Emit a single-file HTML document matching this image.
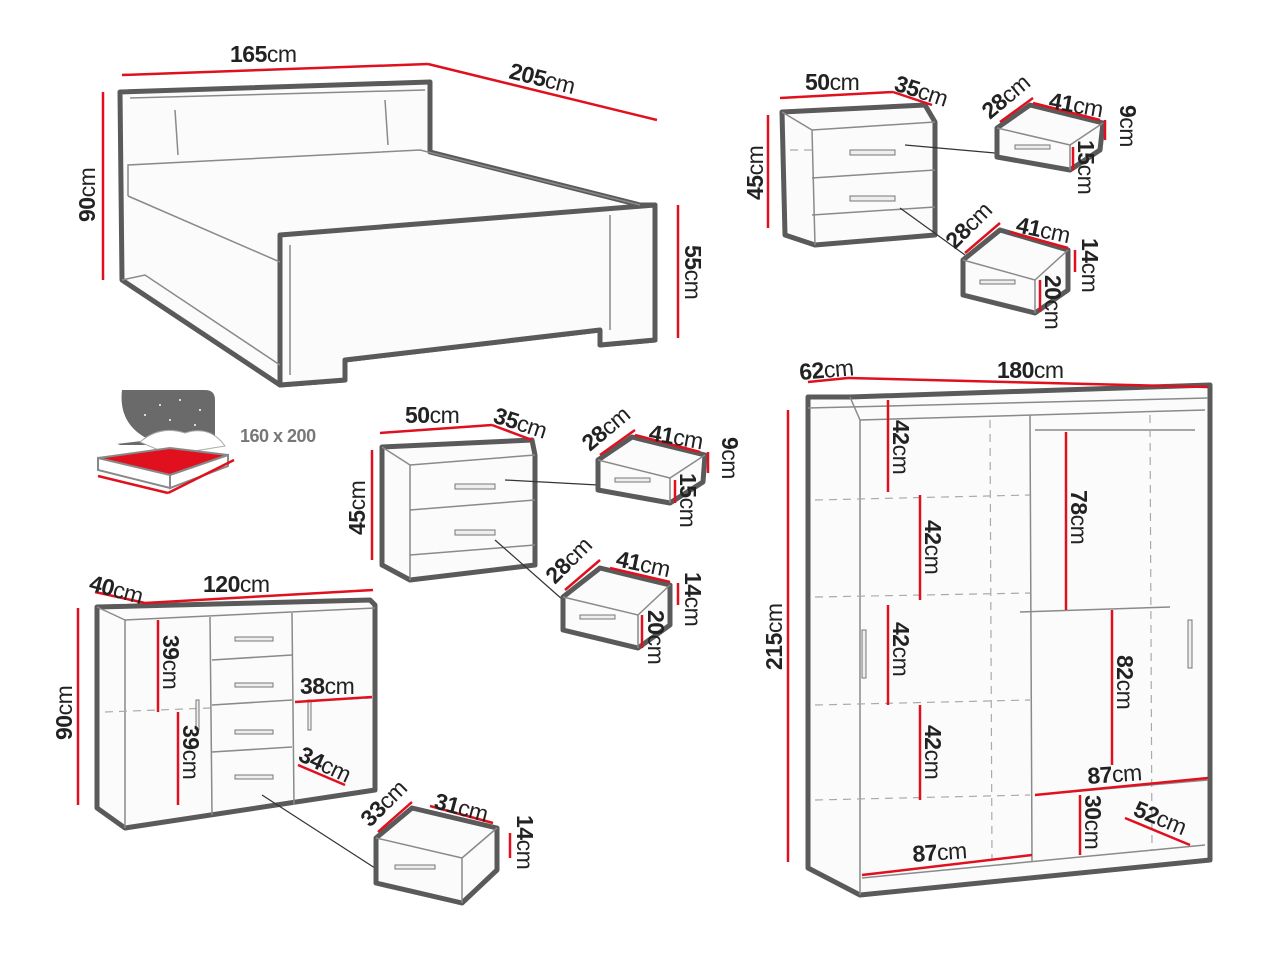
<!DOCTYPE html>
<html><head><meta charset="utf-8"><style>
html,body{margin:0;padding:0;background:#fff;}
svg{display:block;font-family:"Liberation Sans",sans-serif;}
.o{fill:#fbfbfb;stroke:#5a5a5a;stroke-width:5;stroke-linejoin:round}
.t{fill:none;stroke:#8a8a8a;stroke-width:1.5}
.d{fill:none;stroke:#aaa;stroke-width:1.2;stroke-dasharray:8 6}
.r{fill:none;stroke:#e0101e;stroke-width:2.5}
text{font-size:23px;fill:#222;letter-spacing:-0.5px}
.b{font-weight:bold}
</style></head><body>
<svg width="1280" height="960" viewBox="0 0 1280 960" xmlns="http://www.w3.org/2000/svg">
<!-- BED -->
<polygon class="o" points="120,92 430,82 430,152 640,205 655,205 655,340 600,345 600,330 345,360 345,380 280,385 122,280"/>
<polygon class="o" points="280,235 655,205 655,340 600,345 600,330 345,360 345,380 280,385"/>
<polyline class="t" points="128,196 128,165 420,150 640,205"/>
<polyline class="t" points="128,196 280,262"/>
<polyline class="t" points="122,280 145,275 280,365"/>
<line class="t" x1="130" y1="98" x2="425" y2="90"/>
<line class="t" x1="175" y1="110" x2="178" y2="155"/>
<line class="t" x1="385" y1="100" x2="388" y2="145"/>
<line class="t" x1="290" y1="245" x2="290" y2="375"/>
<line class="t" x1="610" y1="215" x2="610" y2="330"/>
<line class="r" x1="122" y1="75" x2="428" y2="64"/>
<line class="r" x1="428" y1="64" x2="657" y2="120"/>
<line class="r" x1="103" y1="92" x2="103" y2="280"/>
<line class="r" x1="678" y1="205" x2="678" y2="338"/>
<text x="230" y="62"><tspan class="b">165</tspan>cm</text>
<text x="508" y="78" transform="rotate(14 508 78)"><tspan class="b">205</tspan>cm</text>
<text x="95" y="222" transform="rotate(-90 95 222)"><tspan class="b">90</tspan>cm</text>
<text x="685" y="245" transform="rotate(90 685 245)"><tspan class="b">55</tspan>cm</text>
<!-- bed icon -->
<path d="M122,390 L205,390 Q215,390 215,400 L215,445 L120,445 L108,440 L108,410 Z" fill="#6a6a6a"/>
<path d="M122,390 Q118,425 150,440 L108,445 L108,405 Z" fill="#fff"/>
<g fill="#fff"><circle cx="160" cy="405" r="1"/><circle cx="180" cy="400" r="1"/><circle cx="200" cy="410" r="1"/><circle cx="170" cy="420" r="1"/><circle cx="195" cy="425" r="1"/><circle cx="145" cy="415" r="1"/></g>
<path d="M140,442 Q160,425 185,433 Q210,425 225,446 L170,455 Z" fill="#fff" stroke="#aaa"/>
<polygon points="98,458 170,448 228,455 170,475" fill="#e0101e" stroke="#888" stroke-width="2"/>
<polygon points="98,458 170,475 170,488 98,470" fill="#fff" stroke="#888" stroke-width="2"/>
<polygon points="170,475 228,455 228,466 170,488" fill="#fff" stroke="#888" stroke-width="2"/>
<line class="r" x1="98" y1="476" x2="168" y2="493" stroke-width="1.5"/>
<line class="r" x1="168" y1="493" x2="234" y2="460" stroke-width="1.5"/>
<text x="240" y="442" style="font-size:18px;font-weight:bold;fill:#777">160 x 200</text>
<!-- NIGHTSTAND TOP -->
<polygon class="o" points="782,112 925,105 935,122 935,235 815,245 785,235"/>
<line class="t" x1="782" y1="112" x2="812" y2="130"/><line class="t" x1="812" y1="130" x2="935" y2="122"/>
<line class="t" x1="812" y1="130" x2="815" y2="245"/>
<line class="t" x1="812" y1="178" x2="935" y2="170"/>
<line class="t" x1="812" y1="215" x2="935" y2="207"/>
<line class="d" x1="790" y1="150" x2="812" y2="150"/>
<rect x="850" y="150" width="45" height="5" fill="#eee" stroke="#777"/>
<rect x="850" y="196" width="45" height="5" fill="#eee" stroke="#777"/>
<line x1="905" y1="145" x2="995" y2="153" stroke="#333" stroke-width="1.2"/>
<line x1="900" y1="208" x2="965" y2="255" stroke="#333" stroke-width="1.2"/>
<line class="r" x1="780" y1="98" x2="893" y2="92"/><line class="r" x1="893" y1="92" x2="932" y2="105"/>
<line class="r" x1="768" y1="115" x2="768" y2="228"/>
<text x="805" y="90"><tspan class="b">50</tspan>cm</text>
<text x="893" y="90" transform="rotate(18 893 90)"><tspan class="b">35</tspan>cm</text>
<text x="763" y="200" transform="rotate(-90 763 200)"><tspan class="b">45</tspan>cm</text>
<!-- drawer small top -->
<polygon class="o" points="997,128 1030,105 1103,123 1100,150 1070,170 997,157"/>
<line class="t" x1="997" y1="128" x2="1070" y2="145"/><line class="t" x1="1070" y1="145" x2="1103" y2="123"/><line class="t" x1="1070" y1="145" x2="1070" y2="170"/>
<rect x="1015" y="145" width="35" height="4" fill="#eee" stroke="#777"/>
<line class="r" x1="1000" y1="122" x2="1033" y2="98"/><line class="r" x1="1033" y1="103" x2="1100" y2="120"/><line class="r" x1="1105" y1="120" x2="1105" y2="140"/><line class="r" x1="1073" y1="147" x2="1073" y2="170"/>
<text x="990" y="120" transform="rotate(-40 990 120)"><tspan class="b">28</tspan>cm</text>
<text x="1048" y="108" transform="rotate(10 1048 108)"><tspan class="b">41</tspan>cm</text>
<text x="1120" y="105" transform="rotate(90 1120 105)"><tspan class="b">9</tspan>cm</text>
<text x="1078" y="140" transform="rotate(90 1078 140)"><tspan class="b">15</tspan>cm</text>
<!-- drawer big top -->
<polygon class="o" points="963,260 1000,230 1068,250 1068,290 1035,313 963,295"/>
<line class="t" x1="963" y1="260" x2="1035" y2="280"/><line class="t" x1="1035" y1="280" x2="1068" y2="250"/><line class="t" x1="1035" y1="280" x2="1035" y2="313"/>
<rect x="980" y="280" width="35" height="4" fill="#eee" stroke="#777"/>
<line class="r" x1="965" y1="253" x2="1000" y2="223"/><line class="r" x1="1010" y1="232" x2="1068" y2="248"/><line class="r" x1="1075" y1="250" x2="1075" y2="272"/><line class="r" x1="1040" y1="280" x2="1040" y2="312"/>
<text x="955" y="250" transform="rotate(-45 955 250)"><tspan class="b">28</tspan>cm</text>
<text x="1015" y="232" transform="rotate(12 1015 232)"><tspan class="b">41</tspan>cm</text>
<text x="1082" y="238" transform="rotate(90 1082 238)"><tspan class="b">14</tspan>cm</text>
<text x="1045" y="275" transform="rotate(90 1045 275)"><tspan class="b">20</tspan>cm</text>
<!-- NIGHTSTAND MIDDLE -->
<polygon class="o" points="382,447 532,440 535,455 535,565 410,580 382,565"/>
<line class="t" x1="382" y1="447" x2="410" y2="465"/><line class="t" x1="410" y1="465" x2="535" y2="455"/>
<line class="t" x1="410" y1="465" x2="410" y2="580"/>
<line class="t" x1="410" y1="510" x2="535" y2="500"/>
<line class="t" x1="410" y1="555" x2="535" y2="545"/>
<rect x="455" y="484" width="40" height="5" fill="#eee" stroke="#777"/>
<rect x="455" y="530" width="40" height="5" fill="#eee" stroke="#777"/>
<line x1="505" y1="480" x2="598" y2="485" stroke="#333" stroke-width="1.2"/>
<line x1="495" y1="540" x2="563" y2="600" stroke="#333" stroke-width="1.2"/>
<line class="r" x1="380" y1="433" x2="492" y2="425"/><line class="r" x1="492" y1="425" x2="532" y2="440"/>
<line class="r" x1="372" y1="450" x2="372" y2="560"/>
<text x="405" y="423"><tspan class="b">50</tspan>cm</text>
<text x="492" y="422" transform="rotate(18 492 422)"><tspan class="b">35</tspan>cm</text>
<text x="365" y="535" transform="rotate(-90 365 535)"><tspan class="b">45</tspan>cm</text>
<polygon class="o" points="598,460 632,437 705,455 703,482 670,503 598,490"/>
<line class="t" x1="598" y1="460" x2="670" y2="478"/><line class="t" x1="670" y1="478" x2="705" y2="455"/><line class="t" x1="670" y1="478" x2="670" y2="503"/>
<rect x="615" y="478" width="35" height="4" fill="#eee" stroke="#777"/>
<line class="r" x1="600" y1="455" x2="635" y2="430"/><line class="r" x1="635" y1="435" x2="700" y2="452"/><line class="r" x1="708" y1="452" x2="708" y2="473"/><line class="r" x1="675" y1="480" x2="675" y2="503"/>
<text x="590" y="452" transform="rotate(-40 590 452)"><tspan class="b">28</tspan>cm</text>
<text x="648" y="440" transform="rotate(10 648 440)"><tspan class="b">41</tspan>cm</text>
<text x="722" y="437" transform="rotate(90 722 437)"><tspan class="b">9</tspan>cm</text>
<text x="680" y="473" transform="rotate(90 680 473)"><tspan class="b">15</tspan>cm</text>
<polygon class="o" points="563,597 600,568 670,585 670,625 638,648 563,630"/>
<line class="t" x1="563" y1="597" x2="638" y2="615"/><line class="t" x1="638" y1="615" x2="670" y2="585"/><line class="t" x1="638" y1="615" x2="638" y2="648"/>
<rect x="580" y="615" width="35" height="4" fill="#eee" stroke="#777"/>
<line class="r" x1="565" y1="590" x2="600" y2="560"/><line class="r" x1="610" y1="568" x2="670" y2="582"/><line class="r" x1="678" y1="583" x2="678" y2="605"/><line class="r" x1="642" y1="615" x2="642" y2="648"/>
<text x="555" y="585" transform="rotate(-45 555 585)"><tspan class="b">28</tspan>cm</text>
<text x="615" y="566" transform="rotate(12 615 566)"><tspan class="b">41</tspan>cm</text>
<text x="685" y="572" transform="rotate(90 685 572)"><tspan class="b">14</tspan>cm</text>
<text x="648" y="610" transform="rotate(90 648 610)"><tspan class="b">20</tspan>cm</text>
<!-- SIDEBOARD -->
<polygon class="o" points="97,607 370,600 375,605 375,790 125,828 97,808"/>
<line class="t" x1="97" y1="607" x2="125" y2="620"/><line class="t" x1="125" y1="620" x2="375" y2="608"/>
<line class="t" x1="125" y1="620" x2="125" y2="828"/>
<line class="t" x1="210" y1="617" x2="212" y2="815"/><line class="t" x1="292" y1="613" x2="294" y2="805"/>
<line class="t" x1="212" y1="660" x2="292" y2="655"/><line class="t" x1="212" y1="705" x2="292" y2="700"/><line class="t" x1="212" y1="752" x2="292" y2="747"/>
<line class="d" x1="105" y1="712" x2="210" y2="708"/><line class="d" x1="295" y1="702" x2="372" y2="698"/>
<rect x="235" y="637" width="38" height="4" fill="#eee" stroke="#777"/>
<rect x="235" y="683" width="38" height="4" fill="#eee" stroke="#777"/>
<rect x="235" y="730" width="38" height="4" fill="#eee" stroke="#777"/>
<rect x="235" y="775" width="38" height="4" fill="#eee" stroke="#777"/>
<rect x="196" y="700" width="3" height="30" fill="#eee" stroke="#777"/>
<rect x="308" y="700" width="3" height="30" fill="#eee" stroke="#777"/>
<line x1="262" y1="795" x2="378" y2="870" stroke="#333" stroke-width="1.2"/>
<line class="r" x1="95" y1="592" x2="145" y2="603"/><line class="r" x1="145" y1="603" x2="373" y2="590"/>
<line class="r" x1="78" y1="608" x2="78" y2="805"/>
<line class="r" x1="158" y1="620" x2="158" y2="712"/><line class="r" x1="178" y1="712" x2="178" y2="805"/>
<line class="r" x1="295" y1="702" x2="372" y2="697"/><line class="r" x1="298" y1="765" x2="345" y2="785"/>
<text x="88" y="590" transform="rotate(15 88 590)"><tspan class="b">40</tspan>cm</text>
<text x="203" y="592"><tspan class="b">120</tspan>cm</text>
<text x="72" y="740" transform="rotate(-90 72 740)"><tspan class="b">90</tspan>cm</text>
<text x="163" y="635" transform="rotate(90 163 635)"><tspan class="b">39</tspan>cm</text>
<text x="183" y="725" transform="rotate(90 183 725)"><tspan class="b">39</tspan>cm</text>
<text x="300" y="694"><tspan class="b">38</tspan>cm</text>
<text x="297" y="760" transform="rotate(25 297 760)"><tspan class="b">34</tspan>cm</text>
<polygon class="o" points="376,838 412,808 497,828 497,870 462,903 376,883"/>
<line class="t" x1="376" y1="838" x2="462" y2="858"/><line class="t" x1="462" y1="858" x2="497" y2="828"/><line class="t" x1="462" y1="858" x2="462" y2="903"/>
<rect x="395" y="865" width="40" height="4" fill="#eee" stroke="#777"/>
<line class="r" x1="378" y1="832" x2="412" y2="802"/><line class="r" x1="430" y1="806" x2="493" y2="823"/><line class="r" x1="510" y1="833" x2="510" y2="858"/>
<text x="370" y="828" transform="rotate(-45 370 828)"><tspan class="b">33</tspan>cm</text>
<text x="433" y="808" transform="rotate(15 433 808)"><tspan class="b">31</tspan>cm</text>
<text x="517" y="815" transform="rotate(90 517 815)"><tspan class="b">14</tspan>cm</text>
<!-- WARDROBE -->
<polygon class="o" points="808,397 850,397 1210,385 1210,860 860,895 808,868"/>
<line class="t" x1="808" y1="408" x2="1208" y2="398"/>
<line class="t" x1="850" y1="397" x2="860" y2="420"/><line class="t" x1="860" y1="420" x2="1205" y2="410"/>
<line class="t" x1="860" y1="420" x2="860" y2="895"/>
<line class="t" x1="1030" y1="415" x2="1032" y2="862"/>
<line class="t" x1="1035" y1="430" x2="1195" y2="430"/>
<line class="t" x1="1020" y1="612" x2="1170" y2="607"/>
<line class="d" x1="815" y1="500" x2="1030" y2="495"/>
<line class="d" x1="815" y1="597" x2="1030" y2="593"/>
<line class="d" x1="815" y1="705" x2="1030" y2="700"/>
<line class="d" x1="815" y1="800" x2="1030" y2="795"/>
<line class="d" x1="990" y1="420" x2="992" y2="860"/>
<line class="d" x1="1150" y1="415" x2="1152" y2="850"/>
<line class="t" x1="1035" y1="795" x2="1208" y2="780"/>
<line class="t" x1="862" y1="878" x2="1205" y2="845"/>
<rect x="862" y="630" width="4" height="48" fill="#eee" stroke="#777"/>
<rect x="1188" y="620" width="4" height="48" fill="#eee" stroke="#777"/>
<line class="r" x1="808" y1="382" x2="848" y2="378"/><line class="r" x1="848" y1="378" x2="1208" y2="387"/>
<line class="r" x1="788" y1="410" x2="788" y2="862"/>
<line class="r" x1="888" y1="400" x2="888" y2="492"/>
<line class="r" x1="920" y1="495" x2="920" y2="600"/>
<line class="r" x1="888" y1="605" x2="888" y2="705"/>
<line class="r" x1="920" y1="705" x2="920" y2="800"/>
<line class="r" x1="1066" y1="432" x2="1066" y2="610"/>
<line class="r" x1="1112" y1="610" x2="1112" y2="765"/>
<line class="r" x1="1035" y1="795" x2="1208" y2="778"/>
<line class="r" x1="862" y1="875" x2="1032" y2="855"/>
<line class="r" x1="1080" y1="795" x2="1080" y2="855"/>
<line class="r" x1="1125" y1="818" x2="1190" y2="845"/>
<text x="800" y="380" transform="rotate(-5 800 380)"><tspan class="b">62</tspan>cm</text>
<text x="997" y="378"><tspan class="b">180</tspan>cm</text>
<text x="782" y="670" transform="rotate(-90 782 670)"><tspan class="b">215</tspan>cm</text>
<text x="893" y="420" transform="rotate(90 893 420)"><tspan class="b">42</tspan>cm</text>
<text x="925" y="520" transform="rotate(90 925 520)"><tspan class="b">42</tspan>cm</text>
<text x="893" y="622" transform="rotate(90 893 622)"><tspan class="b">42</tspan>cm</text>
<text x="925" y="725" transform="rotate(90 925 725)"><tspan class="b">42</tspan>cm</text>
<text x="1071" y="490" transform="rotate(90 1071 490)"><tspan class="b">78</tspan>cm</text>
<text x="1117" y="655" transform="rotate(90 1117 655)"><tspan class="b">82</tspan>cm</text>
<text x="1088" y="784" transform="rotate(-4 1088 784)"><tspan class="b">87</tspan>cm</text>
<text x="913" y="862" transform="rotate(-4 913 862)"><tspan class="b">87</tspan>cm</text>
<text x="1085" y="795" transform="rotate(90 1085 795)"><tspan class="b">30</tspan>cm</text>
<text x="1132" y="815" transform="rotate(22 1132 815)"><tspan class="b">52</tspan>cm</text>
</svg>
</body></html>
